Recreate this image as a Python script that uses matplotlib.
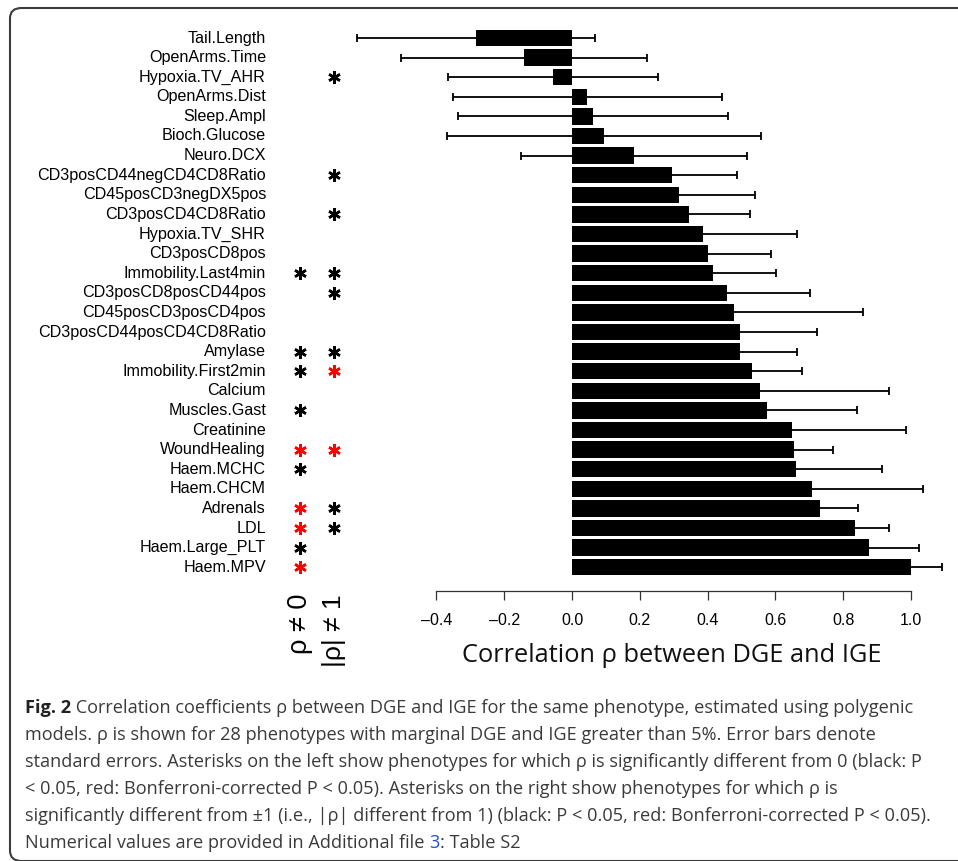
import matplotlib
matplotlib.use("Agg")
import matplotlib.pyplot as plt
import matplotlib.transforms as mtransforms
from matplotlib.patches import FancyBboxPatch

phenotypes = ["Tail.Length", "OpenArms.Time", "Hypoxia.TV_AHR", "OpenArms.Dist", "Sleep.Ampl",
              "Bioch.Glucose", "Neuro.DCX", "CD3posCD44negCD4CD8Ratio", "CD45posCD3negDX5pos",
              "CD3posCD4CD8Ratio", "Hypoxia.TV_SHR", "CD3posCD8pos", "Immobility.Last4min",
              "CD3posCD8posCD44pos", "CD45posCD3posCD4pos", "CD3posCD44posCD4CD8Ratio", "Amylase",
              "Immobility.First2min", "Calcium", "Muscles.Gast", "Creatinine", "WoundHealing",
              "Haem.MCHC", "Haem.CHCM", "Adrenals", "LDL", "Haem.Large_PLT", "Haem.MPV"]
rho = [-0.283, -0.141, -0.056, 0.045, 0.062, 0.094, 0.182, 0.294, 0.315, 0.344, 0.385, 0.401,
       0.415, 0.456, 0.477, 0.495, 0.497, 0.530, 0.554, 0.574, 0.648, 0.654, 0.660, 0.707,
       0.731, 0.836, 0.877, 1.000]
rho_se = [0.351, 0.363, 0.310, 0.397, 0.398, 0.463, 0.333, 0.194, 0.224, 0.180, 0.279, 0.185,
          0.186, 0.245, 0.380, 0.227, 0.168, 0.149, 0.381, 0.268, 0.337, 0.117, 0.253, 0.329,
          0.113, 0.100, 0.148, 0.092]
# 0 = not significant, 1 = P < 0.05 (black), 2 = Bonferroni-corrected P < 0.05 (red)
sig_zero = [0, 0, 0, 0, 0, 0, 0, 0, 0, 0, 0, 0, 1, 0, 0, 0, 1, 1, 0, 1, 0, 2, 1, 0, 2, 2, 1, 2]
sig_one = [0, 0, 1, 0, 0, 0, 0, 1, 0, 1, 0, 0, 1, 1, 0, 0, 1, 2, 0, 0, 0, 2, 0, 0, 1, 1, 0, 0]
xticks = [-0.4, -0.2, 0.0, 0.2, 0.4, 0.6, 0.8, 1.0]

caption = [
    " Correlation coefficients \u03c1 between DGE and IGE for the same phenotype, estimated using polygenic",
    "models. \u03c1 is shown for 28 phenotypes with marginal DGE and IGE greater than 5%. Error bars denote",
    "standard errors. Asterisks on the left show phenotypes for which \u03c1 is significantly different from 0 (black: P",
    "< 0.05, red: Bonferroni-corrected P < 0.05). Asterisks on the right show phenotypes for which \u03c1 is",
    "significantly different from \u00b11 (i.e., |\u03c1| different from 1) (black: P < 0.05, red: Bonferroni-corrected P < 0.05).",
]

W, H = 958, 861
fig = plt.figure(figsize=(W / 100, H / 100), dpi=100)
renderer = fig.canvas.get_renderer()

# plot area in pixels: zero at x=572, 339 px per unit, rows 19.6 px apart from y=38
ax = fig.add_axes([340 / W, 1 - 591 / H, (958 - 340) / W, (591 - 10) / H])
ax.patch.set_visible(False)
ax.set_xlim((340 - 572) / 339, (958 - 572) / 339)
ax.set_ylim((591 - 38) / 19.6, (10 - 38) / 19.6)

ypos = list(range(len(phenotypes)))
ax.errorbar(rho, ypos, xerr=rho_se, fmt="none", ecolor="black", elinewidth=1.3,
            capsize=3.2, capthick=1.3, zorder=1)
ax.barh(ypos, rho, height=0.84, color="black", zorder=2)

for s in ["top", "right", "left"]:
    ax.spines[s].set_visible(False)
ax.spines["bottom"].set_bounds(xticks[0], xticks[-1])
ax.spines["bottom"].set_linewidth(0.9)
ax.spines["bottom"].set_color("#333333")
ax.set_yticks([])
ax.set_xticks(xticks)
ax.set_xticklabels([f"{t:.1f}".replace("-", "\u2013") for t in xticks],
                   family=["Liberation Sans", "DejaVu Sans"], fontsize=11.5)
ax.tick_params(axis="x", direction="out", length=6.5, width=0.9, color="#333333", pad=9)

# phenotype names and significance asterisks on the left
trans = mtransforms.blended_transform_factory(fig.transFigure, ax.transData)
for i, name in enumerate(phenotypes):
    ax.text(266 / W, i, name, transform=trans, ha="right", va="center",
            fontsize=11.6, family=["Liberation Sans", "DejaVu Sans"])
colors = {1: "black", 2: "#ff0000"}
for i in range(len(phenotypes)):
    for col, code in ((300, sig_zero[i]), (334, sig_one[i])):
        if code:
            ax.plot([col / W], [i], transform=trans, marker=(6, 2, 0), markersize=9,
                    markeredgewidth=1.8, color=colors[code], clip_on=False)

sym_font = ["Liberation Sans", "DejaVu Sans"]
fig.text(300 / W, 1 - 594 / H, "\u03c1 \u2260 0", rotation=90, ha="center", va="top",
         fontsize=19.5, family=sym_font)
fig.text(334 / W, 1 - 594 / H, "|\u03c1| \u2260 1", rotation=90, ha="center", va="top",
         fontsize=19, family=sym_font)

# x label, scaled to its width in the reference
lab_font = ["Open Sans", "DejaVu Sans"]
xl = fig.text(672 / W, 1 - 655 / H, "Correlation \u03c1 between DGE and IGE", ha="center",
              va="center", fontsize=10, family=lab_font, color="#111111")
xl.set_fontsize(10 * 419 / xl.get_window_extent(renderer=renderer).width)

# caption, sized so the longest lines end where they do in the reference
cap_font = ["Open Sans", "DejaVu Sans"]
sizes = []
for s, target in (("Fig. 2" + caption[0], 920), (caption[4], 907)):
    probe = fig.text(0, 0, s, fontsize=10, family=cap_font)
    sizes.append(10 * target / probe.get_window_extent(renderer=renderer).width)
    probe.remove()
cap_size = min(sizes)


def put(x_px, y_px, s, **kw):
    t = fig.text(x_px / W, 1 - y_px / H, s, ha="left", va="center", fontsize=cap_size,
                 family=cap_font, **kw)
    return x_px + t.get_window_extent(renderer=renderer).width


x = put(25, 708, "Fig. 2", weight="bold", color="#222222")
put(x, 708, caption[0], color="#3a3a3a")
for k, line in enumerate(caption[1:]):
    put(25, 735 + 27 * k, line, color="#3a3a3a")
x = put(25, 843, "Numerical values are provided in Additional file ", color="#3a3a3a")
x = put(x, 843, "3", color="#1f4fd8")
put(x, 843, ": Table S2", color="#3a3a3a")

# rounded frame around figure and caption
frame = FancyBboxPatch((10 / W, 1 - 861 / H), 980 / W, (861 - 8) / H,
                       boxstyle="round,pad=0,rounding_size=0.012",
                       transform=fig.transFigure, fill=False, edgecolor="#3c3c3c",
                       linewidth=1.5, clip_on=False)
fig.patches.append(frame)

fig.savefig("out.png", dpi=100)
